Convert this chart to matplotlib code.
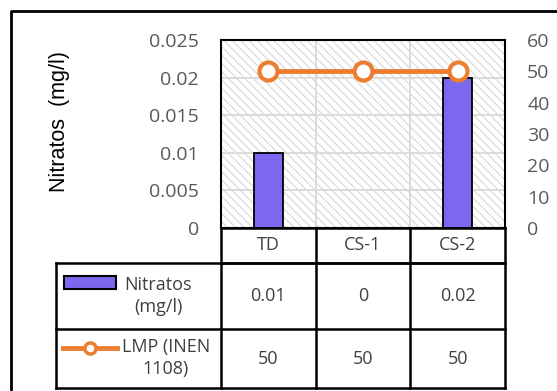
import matplotlib
matplotlib.use('Agg')
import matplotlib.pyplot as plt
import matplotlib.transforms as mtransforms
from matplotlib.patches import Rectangle
from matplotlib.lines import Line2D

# data
categorias = ['TD', 'CS-1', 'CS-2']
nitratos = [0.01, 0, 0.02]
lmp = [50, 50, 50]
nitratos_txt = ['0.01', '0', '0.02']
lmp_txt = ['50', '50', '50']
serie1 = 'Nitratos\n(mg/l)'
serie2 = 'LMP (INEN\n1108)'

plt.rcParams['font.family'] = ['Open Sans', 'DejaVu Sans']
plt.rcParams['hatch.linewidth'] = 0.7

W, H = 557, 391
fig = plt.figure(figsize=(W/100, H/100), dpi=100)

def fx(px):
    return px / W

def fy(py):
    return 1 - py / H

pl, pr, pt, pb = 221, 505, 40, 228
ax = fig.add_axes([fx(pl), fy(pb), fx(pr - pl), fy(pt) - fy(pb)])
ax.set_zorder(1)

# hatched background
bg = Rectangle((0, 0), 1, 1, transform=ax.transAxes, facecolor='white',
               edgecolor='#d4d4d4', linewidth=0, hatch='\\\\\\\\', zorder=0)
ax.add_patch(bg)

x = list(range(len(categorias)))
ax.bar(x, nitratos, width=0.3, color='#7b68ee', edgecolor='black', linewidth=1.3, zorder=3)
ax.set_xlim(-0.5, len(categorias) - 0.5)
ax.set_ylim(0, 0.025)
ax.set_yticks([0, 0.005, 0.01, 0.015, 0.02, 0.025])
ax.set_yticklabels(['0', '0.005', '0.01', '0.015', '0.02', '0.025'])
for yv in [0.005, 0.01, 0.015, 0.02]:
    ax.axhline(yv, color='#d9d9d9', lw=1.3, zorder=1)
for xv in [0.5, 1.5]:
    ax.axvline(xv, color='#d9d9d9', lw=1.3, zorder=1)
ax.set_xticks([])
ax.tick_params(axis='y', length=0, pad=16, labelsize=14, labelcolor='#595959')
for s in ax.spines.values():
    s.set_linewidth(1.5)
    s.set_color('black')

ax2 = ax.twinx()
ax2.plot(x, lmp, color='#ed7d31', lw=3.5, marker='o', markersize=13,
         markerfacecolor='white', markeredgecolor='#ed7d31', markeredgewidth=3, zorder=4,
         clip_on=False)
ax2.set_ylim(0, 60)
ax2.set_yticks([0, 10, 20, 30, 40, 50, 60])
ax2.tick_params(axis='y', length=0, pad=16, labelsize=14, labelcolor='#595959')
for s in ax2.spines.values():
    s.set_visible(False)

fig.text(fx(60), fy(121), 'Nitratos  (mg/l)', rotation=90, ha='center', va='center',
         fontsize=15.5, family='Liberation Sans', color='black')

# data table
trans = mtransforms.blended_transform_factory(ax.transData, fig.transFigure)
rows = [228, 263, 329, 388]
lw = 1.8
for yv in rows[:2]:
    fig.add_artist(Line2D([-0.5, 2.5], [fy(yv), fy(yv)], transform=trans, color='black', lw=lw))
for yv in rows[1:]:
    fig.add_artist(Line2D([fx(56), fx(pr)], [fy(yv), fy(yv)], transform=fig.transFigure,
                          color='black', lw=lw))
for xv in [-0.5, 0.5, 1.5, 2.5]:
    fig.add_artist(Line2D([xv, xv], [fy(rows[0]), fy(rows[-1])], transform=trans, color='black', lw=lw))
fig.add_artist(Line2D([fx(56), fx(56)], [fy(rows[1]), fy(rows[-1])], transform=fig.transFigure,
                      color='black', lw=lw))

for i, c in enumerate(categorias):
    fig.text(i, fy((rows[0] + rows[1]) / 2), c, transform=trans, ha='center', va='center',
             fontsize=13, color='#404040')
    fig.text(i, fy((rows[1] + rows[2]) / 2), nitratos_txt[i], transform=trans, ha='center',
             va='center', fontsize=13, color='#404040')
    fig.text(i, fy((rows[2] + rows[3]) / 2), lmp_txt[i], transform=trans, ha='center',
             va='center', fontsize=13, color='#404040')

# legend keys in table
fig.add_artist(Rectangle((fx(64), fy(289)), fx(52), fy(276) - fy(289), transform=fig.transFigure,
                         facecolor='#7b68ee', edgecolor='black', lw=1.5))
fig.add_artist(Line2D([fx(63), fx(117)], [fy(348), fy(348)], transform=fig.transFigure,
                      color='#ed7d31', lw=3.5))
fig.add_artist(Line2D([fx(90)], [fy(348)], transform=fig.transFigure, color='#ed7d31',
                      marker='o', markersize=8, markerfacecolor='white', markeredgewidth=2.5))
fig.text(fx(158), fy(296), serie1, ha='center', va='center', fontsize=13, color='#404040',
         linespacing=1.25)
fig.text(fx(166), fy(358), serie2, ha='center', va='center', fontsize=13, color='#404040',
         linespacing=1.25)

# outer chart border
fig.add_artist(Line2D([fx(11), fx(11), fx(W + 5)], [fy(H + 5), fy(11), fy(11)],
                      transform=fig.transFigure, color='black', lw=2))

fig.savefig('out.png', dpi=100)
